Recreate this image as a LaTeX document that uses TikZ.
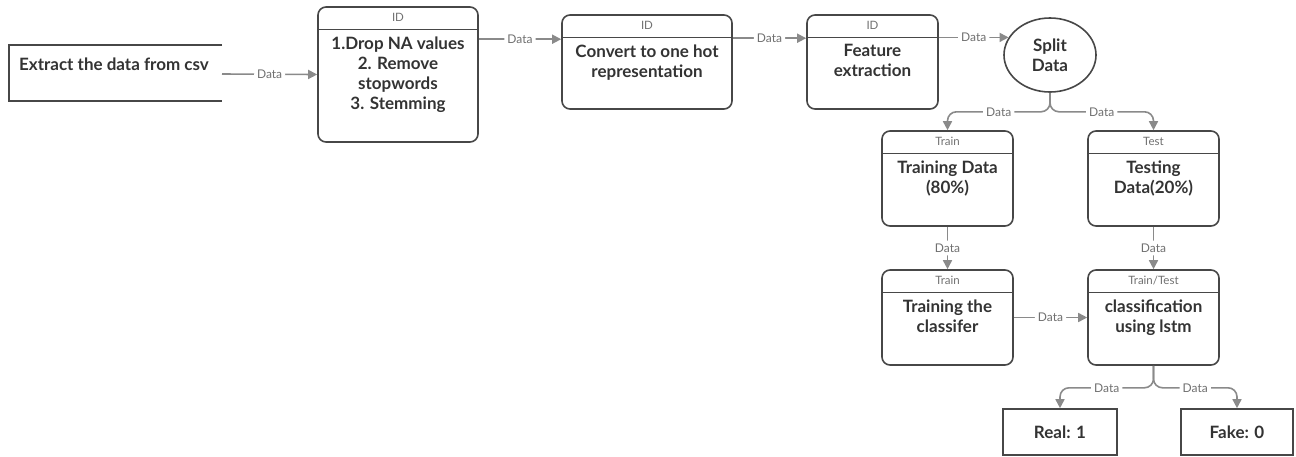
\documentclass[tikz,border=0pt]{standalone}
\usepackage{fontspec}
\setmainfont{Lato}
\usetikzlibrary{positioning,shapes.geometric,arrows.meta}
\definecolor{boxline}{HTML}{474747}
\definecolor{boxtext}{HTML}{333333}
\definecolor{connline}{HTML}{8A8A8A}
\definecolor{labeltext}{HTML}{707070}

% box with a small header strip on top
\newcommand{\headbox}[6]{%
  \node[state,minimum width=#3,minimum height=#4] (#1) at (#2) {};
  \node[head] at ([yshift=-11.5pt]#1.north) {#5};
  \draw[divider] ([yshift=-23pt]#1.north west) -- ([yshift=-23pt]#1.north east);
  \node[body,anchor=north] at ([yshift=-30pt]#1.north) {#6};
}

\begin{document}
\begin{tikzpicture}[x=1pt,y=-1pt,
  state/.style={draw=boxline,line width=1.6pt,rounded corners=8pt,inner sep=0pt},
  head/.style={font=\fontsize{11.5}{13}\selectfont,text=labeltext,inner sep=0pt},
  body/.style={font=\fontsize{17}{20}\selectfont\bfseries,text=boxtext,align=center,inner sep=0pt},
  divider/.style={draw=boxline,line width=1.4pt},
  outbox/.style={draw=boxline,line width=1.6pt,inner sep=0pt},
  conn/.style={draw=connline,line width=1.6pt,-{Triangle[length=9pt,width=9pt]},rounded corners=9pt},
  lbl/.style={fill=white,text=labeltext,font=\fontsize{12}{14}\selectfont,inner sep=3pt}]

\useasboundingbox (0,0) rectangle (1296,456);

% open frame for the input step
\node[body,anchor=west] (extract) at (19,64) {Extract the data from csv};
\draw[outbox] (222,45) -| (9,101) -- (222,101);
\coordinate (extractout) at (222,74);

\headbox{drop}{398,74.5}{160pt}{135pt}{ID}{1.Drop NA values\\ 2. Remove\\ stopwords\\ 3. Stemming}
\headbox{convert}{647,62}{170pt}{94pt}{ID}{Convert to one hot\\ representation}
\headbox{feature}{872.5,62}{131pt}{94pt}{ID}{Feature\\ extraction}

\node[body,ellipse,draw=boxline,line width=1.6pt,minimum width=92pt,minimum height=74pt] (split) at (1050,55) {Split\\ Data};

\headbox{train}{947.5,178.5}{131pt}{95pt}{Train}{Training Data\\ (80\%)}
\headbox{test}{1153.5,178.5}{131pt}{95pt}{Test}{Testing\\ Data(20\%)}
\headbox{trainclf}{947.5,317.5}{131pt}{95pt}{Train}{Training the\\ classifer}
\headbox{lstm}{1153.5,317.5}{131pt}{95pt}{Train/Test}{classification\\ using lstm}

\node[body,outbox,minimum width=114pt,minimum height=46pt] (real) at (1060,432) {Real: 1};
\node[body,outbox,minimum width=112pt,minimum height=46pt] (fake) at (1237,432) {Fake: 0};

% connectors
\draw[conn] (extractout) -- node[lbl]{Data} (drop.west);
\draw[conn] ([yshift=-33pt]drop.north east) -- node[lbl]{Data} ([yshift=-25pt]convert.north west);
\draw[conn] ([yshift=-24pt]convert.north east) -- node[lbl]{Data} ([yshift=-24pt]feature.north west);
\draw[conn] (split.157 -| feature.east) -- node[lbl]{Data} (split.157);
\draw[conn] (split.south) -- ++(0,19) -| node[lbl,pos=0.25]{Data} (train.north);
\draw[conn] (split.south) -- ++(0,19) -| node[lbl,pos=0.25]{Data} (test.north);
\draw[conn] (train) -- node[lbl]{Data} (trainclf);
\draw[conn] (test) -- node[lbl]{Data} (lstm);
\draw[conn] (trainclf) -- node[lbl]{Data} (lstm);
\draw[conn] (lstm.south) -- ++(0,22) -| node[lbl,pos=0.25]{Data} (real.north);
\draw[conn] (lstm.south) -- ++(0,22) -| node[lbl,pos=0.25]{Data} (fake.north);
\end{tikzpicture}
\end{document}
